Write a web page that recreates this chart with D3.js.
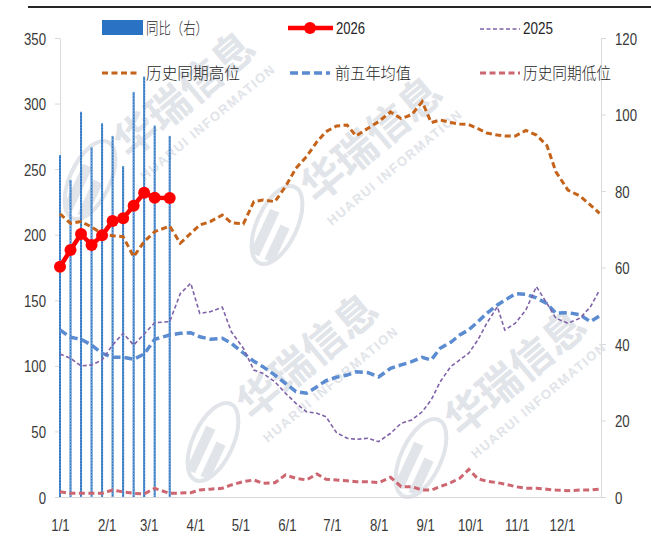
<!DOCTYPE html>
<html>
<head>
<meta charset="utf-8">
<script src="https://cdn.jsdelivr.net/npm/d3@7"></script>
<style>
body{margin:0;background:#fff;}
svg{display:block;font-family:"Liberation Sans",Arial,sans-serif;}
</style>
</head>
<body>
<svg id="chart" width="651" height="542"></svg>
<script>
// day-of-year of each weekly point
var weekDays = [0,7,14,21,28,35,42,49,56,63,73,80,87,93,100,108,114,122,129,135,
  143,150,157,164,171,177,184,191,197,205,212,220,227,234,241,247,253,260,266,272,
  278,284,291,296,303,310,317,324,330,338,346,353,359];

var yoy = [89.4, 82.9, 100.7, 91.4, 97.7, 94.4, 86.5, 105.9, 109.9, 97.1, 94.4];
var y2026 = [175.6, 188.3, 200.5, 192.2, 199.5, 210.4, 212.5, 222.1, 232, 228.2, 228];
var y2025 = [109, 105.8, 100, 100.7, 104.5, 115.9, 124.8, 115.9, 124.3, 132.9,
  133.7, 155, 163, 140, 141.3, 144.7, 126, 113.4, 96.8, 94.3,
  87.9, 79.1, 71.4, 65, 63.8, 61.2, 49, 44.8, 44, 44.8,
  42.2, 48.6, 56.2, 58.7, 65, 74, 87.9, 99.4, 104.5, 109.6,
  119.7, 132.5, 145.1, 127.3, 132.5, 142.6, 160.4, 147.7, 136.3, 132.5,
  136.3, 145.1, 157.8];
var histHigh = [215.8, 208.7, 210, 206, 200.5, 199.2, 198.5, 183.2, 194.7, 202.3,
  206.6, 193.5, 201, 207.4, 210, 215, 209.2, 208.2, 225.2, 226.5,
  225.2, 236.6, 250.6, 259.5, 270.9, 278.6, 282.9, 283.7, 275.3, 281.2,
  286.2, 293.6, 288.5, 291.5, 301.4, 285.5, 287.5, 285.5, 284.4, 284,
  281, 277.5, 276, 275.3, 275.3, 279.5, 276, 268, 248, 234,
  229.5, 222.6, 216.3];
var avg5 = [127.3, 121.8, 120.3, 115.9, 109.6, 106.5, 106.5, 105, 109, 120.3,
  123.5, 124.8, 125.3, 122.2, 120.3, 121, 117.2, 109.8, 103.5, 99.4,
  93, 86.7, 80.3, 79.1, 84.1, 88.7, 91.3, 93, 95.5, 94.8,
  91.5, 98.1, 100.7, 103.2, 106.5, 104.5, 113.4, 118, 123.5, 127.5,
  133.5, 140.1, 146.4, 150, 155, 154.5, 151.8, 147.5, 140.1, 140.6,
  139, 133.7, 138];
var histLow = [4, 2.8, 2.8, 2.8, 2.8, 5.3, 4, 2.8, 2.3, 6.6,
  2.8, 3, 3.3, 5.3, 6, 6.6, 9.2, 11.7, 13, 10.4,
  10.9, 16.8, 14.3, 13, 17.5, 13.5, 13, 12.4, 11.7, 11.7,
  10.9, 15, 7.9, 7.9, 5.3, 5.3, 7.9, 10.9, 14.3, 21,
  14, 12, 10.9, 9.9, 7.9, 6.6, 6.6, 5.9, 5.3, 4.8,
  5.3, 5.3, 5.9];

var leftTicks = [0, 50, 100, 150, 200, 250, 300, 350];
var rightTicks = [0, 20, 40, 60, 80, 100, 120];
var monthLabels = ['1/1','2/1','3/1','4/1','5/1','6/1','7/1','8/1','9/1','10/1','11/1','12/1'];

var svg = d3.select('#chart')
  , start = new Date(2026, 0, 1)
  , toDate = function(d) { return d3.timeDay.offset(start, d); }
  , x = d3.scaleTime().domain([start, new Date(2026, 11, 27)]).range([60, 601])
  , yL = d3.scaleLinear().domain([0, 350]).range([497, 38])
  , yR = d3.scaleLinear().domain([0, 120]).range([497, 38])
  , axisColor = '#d9d9d9'
  , textColor = '#3a3a3a';

// top rule
svg.append('line').attr('x1', 28).attr('x2', 651).attr('y1', 7).attr('y2', 7)
  .attr('stroke', '#262626').attr('stroke-width', 2);

// watermarks
var wmColor = '#e1e4e9';
var marks = [[185, 95], [372, 140], [308, 357], [516, 373]];
var wm = svg.append('g').attr('class', 'watermark');
marks.forEach(function(m) {
  var g = wm.append('g').attr('transform', 'translate(' + m[0] + ',' + m[1] + ') rotate(-40)');
  g.append('text').attr('text-anchor', 'middle').attr('y', 14)
    .style('font-family', '"Noto Sans CJK SC", sans-serif').style('font-weight', 700)
    .style('font-size', '42px').attr('fill', wmColor).text('华瑞信息');
  g.append('text').attr('text-anchor', 'middle').attr('y', 40)
    .style('font-size', '13px').style('font-weight', 700).style('letter-spacing', '1.5px')
    .attr('fill', wmColor).text('HUARUI INFORMATION');
  var lg = wm.append('g').attr('transform', 'translate(' + (m[0] - 95) + ',' + (m[1] + 85) + ') rotate(25)');
  lg.append('ellipse').attr('rx', 20).attr('ry', 42).attr('fill', 'none')
    .attr('stroke', wmColor).attr('stroke-width', 4);
  lg.append('rect').attr('x', -13).attr('y', -12).attr('width', 10).attr('height', 48).attr('fill', wmColor);
  lg.append('rect').attr('x', 3).attr('y', -2).attr('width', 10).attr('height', 38).attr('fill', wmColor);
});

// axes
var fixText = function(sel, dx, anchor) {
  sel.selectAll('text')
    .attr('x', 0).attr('dy', null)
    .attr('text-anchor', anchor)
    .attr('transform', 'translate(' + dx + ',6) scale(0.8,1)')
    .style('font-size', '16.5px').attr('fill', textColor);
};
var axL = svg.append('g').attr('transform', 'translate(60,0)')
  .call(d3.axisLeft(yL).tickValues(leftTicks).tickSize(5).tickSizeOuter(0));
fixText(axL, -14, 'end');
var axR = svg.append('g').attr('transform', 'translate(601,0)')
  .call(d3.axisRight(yR).tickValues(rightTicks).tickSize(5).tickSizeOuter(0));
fixText(axR, 14, 'start');

var monthDates = monthLabels.map(function(s) {
  var p = s.split('/');
  return new Date(2026, +p[0] - 1, +p[1]);
});
var axB = svg.append('g').attr('transform', 'translate(0,497)')
  .call(d3.axisBottom(x).tickValues(monthDates).tickFormat(function(d, i) { return monthLabels[i]; })
    .tickSize(0).tickSizeOuter(0));
axB.selectAll('text').attr('y', 0).attr('dy', null)
  .attr('transform', 'translate(0,34) scale(0.8,1)')
  .style('font-size', '16.5px').attr('fill', textColor);

[axL, axR, axB].forEach(function(a) {
  a.select('.domain').attr('stroke', axisColor);
  a.selectAll('.tick line').attr('stroke', axisColor);
});

// bars (right axis)
var bars = svg.append('g');
yoy.forEach(function(v, i) {
  var cx = x(toDate(weekDays[i]));
  bars.append('rect').attr('x', cx - 1).attr('width', 2)
    .attr('y', yR(v)).attr('height', yR(0) - yR(v)).attr('fill', '#2e74c0');
  bars.append('line').attr('x1', cx).attr('x2', cx).attr('y1', yR(v)).attr('y2', yR(0))
    .attr('stroke', '#9cc6f0').attr('stroke-width', 0.7).attr('stroke-dasharray', '1.5,1.5');
});

// weekly lines (left axis)
var line = d3.line()
  .x(function(d, i) { return x(toDate(weekDays[i])); })
  .y(function(d) { return yL(d); });

var series = [
  {data: histLow, color: '#cd6670', width: 3, dash: '6,3.5'},
  {data: avg5, color: '#5b8bd0', width: 3.5, dash: '8,4'},
  {data: y2025, color: '#7f62a8', width: 1.6, dash: '4,2.5'},
  {data: histHigh, color: '#c5631a', width: 3, dash: '6,3.5'}
];
series.forEach(function(s) {
  svg.append('path').datum(s.data).attr('d', line)
    .attr('fill', 'none').attr('stroke', s.color)
    .attr('stroke-width', s.width).attr('stroke-dasharray', s.dash);
});

// 2026
svg.append('path').datum(y2026).attr('d', line)
  .attr('fill', 'none').attr('stroke', '#ff0000').attr('stroke-width', 4.5);
svg.append('g').selectAll('circle').data(y2026).enter().append('circle')
  .attr('cx', function(d, i) { return x(toDate(weekDays[i])); })
  .attr('cy', function(d) { return yL(d); })
  .attr('r', 6).attr('fill', '#ff0000');

// legend
var leg = svg.append('g');
var cjk = '"Noto Sans CJK SC", sans-serif';
var legText = function(tx, ty, label, len, isCjk) {
  var t = leg.append('text').attr('x', tx).attr('y', ty).attr('fill', '#262626')
    .style('font-size', '16px').text(label);
  if (isCjk) t.style('font-family', cjk).style('font-weight', 300);
  if (len) t.attr('textLength', len).attr('lengthAdjust', 'spacingAndGlyphs');
};
leg.append('rect').attr('x', 102).attr('y', 20).attr('width', 41).attr('height', 15).attr('fill', '#2a72c4');
legText(146, 34, '同比（右）', 62, true);
leg.append('line').attr('x1', 288).attr('x2', 333).attr('y1', 28).attr('y2', 28)
  .attr('stroke', '#ff0000').attr('stroke-width', 4.5);
leg.append('circle').attr('cx', 310).attr('cy', 28).attr('r', 6).attr('fill', '#ff0000');
legText(336, 34, '2026', 29, false);
leg.append('line').attr('x1', 480).attr('x2', 520).attr('y1', 29).attr('y2', 29)
  .attr('stroke', '#7f62a8').attr('stroke-width', 1.6).attr('stroke-dasharray', '4,2.5');
legText(523, 34, '2025', 30, false);

var row2 = [
  {x1: 102, x2: 139, tx: 146, label: '历史同期高位', len: 94, color: '#c5631a', width: 3, dash: '6,3.5'},
  {x1: 290, x2: 330, tx: 335, label: '前五年均值', len: 76, color: '#5b8bd0', width: 3.5, dash: '8,4'},
  {x1: 480, x2: 520, tx: 523, label: '历史同期低位', len: 88, color: '#cd6670', width: 3, dash: '6,3.5'}
];
row2.forEach(function(r) {
  leg.append('line').attr('x1', r.x1).attr('x2', r.x2).attr('y1', 73).attr('y2', 73)
    .attr('stroke', r.color).attr('stroke-width', r.width).attr('stroke-dasharray', r.dash);
  legText(r.tx, 79, r.label, r.len, true);
});
</script>
</body>
</html>
